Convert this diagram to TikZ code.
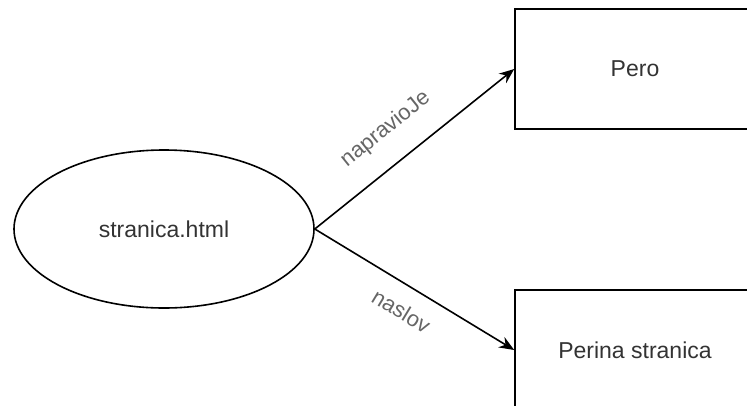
\documentclass[tikz,border=0pt]{standalone}
\usepackage{fontspec}
\setmainfont{Liberation Sans}
\usetikzlibrary{shapes.geometric,arrows.meta}
\begin{document}
\begin{tikzpicture}[x=1pt,y=-1pt,
  ent/.style={draw=black, line width=1.6pt, ellipse, minimum width=300pt, minimum height=158pt, inner sep=0pt, font=\fontsize{23}{27}\selectfont, text=black!80},
  box/.style={draw=black, line width=1.6pt, rectangle, minimum width=240pt, minimum height=120pt, inner sep=0pt, font=\fontsize{23}{27}\selectfont, text=black!80},
  rel/.style={draw=black, line width=1.6pt, -{Stealth[length=15pt,width=12pt]}},
  lbl/.style={font=\fontsize{22}{26}\selectfont, text=black!60, sloped}
]
\useasboundingbox (0,0) rectangle (747,405);
\node[ent] (page) at (164,229) {stranica.html};
\node[box] (pero) at (635,69) {Pero};
\node[box] (pstr) at (635,350) {Perina stranica};
\draw[rel] (page.east) -- (pero.west) node[lbl, pos=0.46, above=19pt] (l1) {napravioJe};
\draw[rel] (page.east) -- (pstr.west) node[lbl, pos=0.5, below=13pt] (l2) {naslov};
\end{tikzpicture}
\end{document}
